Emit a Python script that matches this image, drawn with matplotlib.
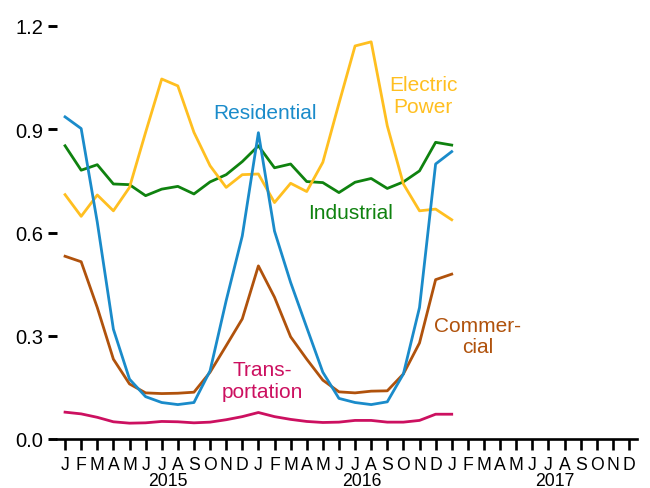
import matplotlib
matplotlib.use("Agg")
import matplotlib.pyplot as plt
import numpy as np

plt.rcParams['font.family'] = ['Liberation Sans', 'DejaVu Sans']

months = ["J", "F", "M", "A", "M", "J", "J", "A", "S", "O", "N", "D"] * 3
years = ["2015", "2016", "2017"]

residential = [0.936, 0.902, 0.630, 0.319, 0.174, 0.123, 0.106, 0.100, 0.106, 0.198,
               0.402, 0.590, 0.890, 0.604, 0.455, 0.324, 0.194, 0.118, 0.106, 0.100,
               0.108, 0.189, 0.382, 0.799, 0.835]
electric = [0.710, 0.647, 0.709, 0.663, 0.731, 0.891, 1.046, 1.026, 0.891, 0.794,
            0.731, 0.768, 0.770, 0.687, 0.743, 0.719, 0.804, 0.975, 1.142, 1.154,
            0.910, 0.741, 0.663, 0.668, 0.637]
industrial = [0.852, 0.781, 0.797, 0.741, 0.739, 0.707, 0.726, 0.734, 0.712, 0.747,
              0.768, 0.806, 0.852, 0.788, 0.799, 0.748, 0.745, 0.716, 0.746, 0.757,
              0.728, 0.747, 0.779, 0.862, 0.854]
commercial = [0.531, 0.515, 0.382, 0.232, 0.160, 0.134, 0.132, 0.133, 0.136, 0.194,
              0.271, 0.349, 0.503, 0.412, 0.297, 0.232, 0.171, 0.137, 0.134, 0.139,
              0.140, 0.189, 0.279, 0.463, 0.479]
transportation = [0.078, 0.073, 0.063, 0.050, 0.046, 0.047, 0.051, 0.050, 0.047, 0.049,
                  0.056, 0.065, 0.077, 0.065, 0.057, 0.051, 0.048, 0.049, 0.054, 0.054,
                  0.049, 0.049, 0.054, 0.072, 0.072]

yticks = [0.0, 0.3, 0.6, 0.9, 1.2]

c_res = '#1a8bca'
c_ele = '#ffbf20'
c_ind = '#0f820f'
c_com = '#b0520c'
c_tra = '#cc1060'

fig = plt.figure(figsize=(6.5, 4.89), dpi=100)
ax = fig.add_axes([57/650, 49/489, 580/650, 413/489])

x = np.arange(len(residential))
lw = 2.0
ax.plot(x, transportation, color=c_tra, lw=lw, clip_on=False)
ax.plot(x, commercial, color=c_com, lw=lw, clip_on=False)
ax.plot(x, industrial, color=c_ind, lw=lw, clip_on=False)
ax.plot(x, electric, color=c_ele, lw=lw, clip_on=False)
ax.plot(x, residential, color=c_res, lw=lw, clip_on=False)

ax.set_xlim(-0.5, 35.5)
ax.set_ylim(0, 1.2)

for s in ['top', 'right', 'left']:
    ax.spines[s].set_visible(False)
ax.spines['bottom'].set_linewidth(1.9)

ax.set_yticks(yticks)
ax.set_yticklabels([f"{v:.1f}" for v in yticks], fontsize=14.5)
ax.tick_params(axis='y', length=6.5, width=2.1, pad=3.5, direction='out')

ax.set_xticks(np.arange(36))
ax.set_xticklabels(months, fontsize=12.7)
ax.tick_params(axis='x', length=8, width=1.9, pad=4.5, direction='out')

for i, yr in enumerate(years):
    ax.text(6.4 + 12 * i, -0.12, yr, ha='center', va='center', fontsize=12.7,
            transform=ax.transData, clip_on=False)

fs = 15
ax.text(12.39, 0.950, "Residential", color=c_res, fontsize=fs, ha='center', va='center')
ax.text(22.22, 0.998, "Electric\nPower", color=c_ele, fontsize=fs, ha='center', va='center',
        multialignment='center', linespacing=1.18)
ax.text(17.72, 0.659, "Industrial", color=c_ind, fontsize=fs, ha='center', va='center')
ax.text(25.59, 0.299, "Commer-\ncial", color=c_com, fontsize=fs, ha='center', va='center',
        multialignment='center', linespacing=1.18)
ax.text(12.27, 0.169, "Trans-\nportation", color=c_tra, fontsize=fs, ha='center', va='center',
        multialignment='center', linespacing=1.18)

fig.savefig("out.png", dpi=100)
